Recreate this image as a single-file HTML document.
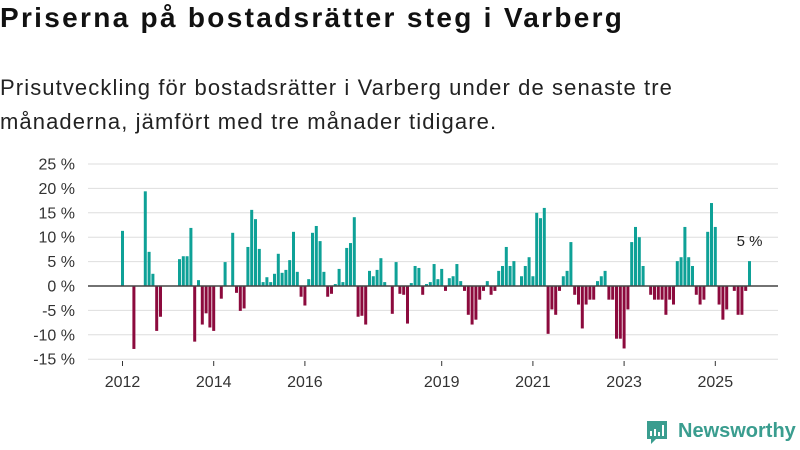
<!DOCTYPE html>
<html><head><meta charset="utf-8"><style>
body{margin:0;width:800px;height:450px;background:#fff;font-family:"Liberation Sans",sans-serif;overflow:hidden}
h1{position:absolute;left:0;top:2px;margin:0;font-size:28px;letter-spacing:2.3px;font-weight:bold;color:#111}
.sub{position:absolute;left:0;top:71px;font-size:22px;letter-spacing:1.1px;line-height:34px;color:#222}
svg{position:absolute;left:0;top:0}
</style></head><body>
<h1>Priserna på bostadsrätter steg i Varberg</h1>
<div class="sub">Prisutveckling för bostadsrätter i Varberg under de senaste tre<br>månaderna, jämfört med tre månader tidigare.</div>
<svg id="c" width="800" height="450"></svg>
<script>
const yTicks=[25,20,15,10,5,0,-5,-10,-15];
const xTickYears=[2012,2014,2016,2019,2021,2023,2025];
const startYear=2012;
const values=[11.3,null,null,-12.9,null,null,19.4,7.0,2.5,-9.2,-6.3,null,null,null,null,5.5,6.1,6.1,11.9,-11.4,1.2,-7.9,-5.6,-8.5,-9.2,null,-2.6,4.9,null,10.9,-1.4,-5.1,-4.6,8.0,15.6,13.7,7.6,0.8,1.8,0.8,2.5,6.6,2.7,3.3,5.3,11.1,2.9,-2.2,-4.0,1.4,10.9,12.3,9.2,2.9,-2.2,-1.6,0.4,3.5,0.8,7.8,8.8,14.1,-6.3,-6.1,-7.9,3.1,2.0,3.3,5.7,0.8,null,-5.7,4.9,-1.6,-1.8,-7.7,0.6,4.1,3.7,-1.8,0.4,0.8,4.5,1.4,3.5,-1.0,1.6,2.0,4.5,1.0,-1.0,-5.9,-7.9,-6.9,-2.8,-1.0,1.0,-1.8,-1.0,3.1,4.1,8.0,4.1,5.1,null,2.0,4.1,5.9,2.0,15.0,13.9,16.0,-9.8,-4.8,-5.9,-1.0,2.0,3.1,9.0,-1.8,-3.8,-8.7,-3.8,-2.8,-2.8,1.0,2.0,3.1,-2.8,-2.8,-10.8,-10.8,-12.8,-4.8,9.0,12.1,10.0,4.1,null,-1.8,-2.8,-2.8,-2.8,-5.9,-2.8,-3.8,5.1,5.9,12.1,5.9,4.1,-1.8,-3.8,-2.8,11.1,17.0,12.1,-3.8,-6.9,-4.8,null,-1.0,-5.9,-5.9,-1.0,5.1];
const lastLabel="5 %";
const svg=document.getElementById('c');const NS='http://www.w3.org/2000/svg';
function y(v){return 286-v*4.88;}
function x(m){return 122.5+m*3.8;}
function mk(t,a){const e=document.createElementNS(NS,t);for(const k in a)e.setAttribute(k,a[k]);svg.appendChild(e);return e;}
yTicks.forEach(t=>{
 const g=mk('line',{x1:88,x2:778,y1:y(t),y2:y(t),stroke:'#dedede','stroke-width':1});
 
 
 const l=mk('text',{x:75,y:y(t)+5.5,'text-anchor':'end','font-size':16,fill:'#333','font-family':'Liberation Sans, sans-serif'});
 l.textContent=t+' %';
 
 
});
values.forEach((v,m)=>{
 if(v===null)return;
 const r=mk('rect',{x:x(m)-1.5,width:3,y:Math.min(y(v),y(0)),height:Math.abs(y(v)-y(0)),fill:v>=0?'#0ea197':'#8c0a3d'});
 
 
});
const z=mk('line',{x1:88,x2:778,y1:y(0),y2:y(0),stroke:'#444','stroke-width':1.5});


xTickYears.forEach(yr=>{
 const m=(yr-startYear)*12;
 const tk=mk('line',{x1:x(m),x2:x(m),y1:361,y2:366,stroke:'#333'});
 
 
 const l=mk('text',{x:x(m),y:387,'text-anchor':'middle','font-size':16,fill:'#333','font-family':'Liberation Sans, sans-serif'});
 l.textContent=yr;
 
 
});
const li=values.length-1;
const ll=mk('text',{x:x(li),y:y(values[li])-15,'text-anchor':'middle','font-size':15,fill:'#222','font-family':'Liberation Sans, sans-serif'});
ll.textContent=lastLabel;


</script>
<div style="position:absolute;left:645px;top:419px;width:155px;height:28px">
<svg width="26" height="30" style="position:absolute;left:0;top:0"><path d="M2 2h20v18h-11l-5 5v-5h-4z" fill="#3a9d8f"/><rect x="5" y="12" width="2" height="5" fill="#fff"/><rect x="9" y="10" width="2" height="7" fill="#fff"/><rect x="13" y="13" width="2" height="4" fill="#fff"/><rect x="17" y="6" width="2" height="11" fill="#fff"/></svg>
<span style="position:absolute;left:33px;top:1px;font-size:20px;font-weight:bold;color:#3a9d8f">Newsworthy</span>
</div>
</body></html>
